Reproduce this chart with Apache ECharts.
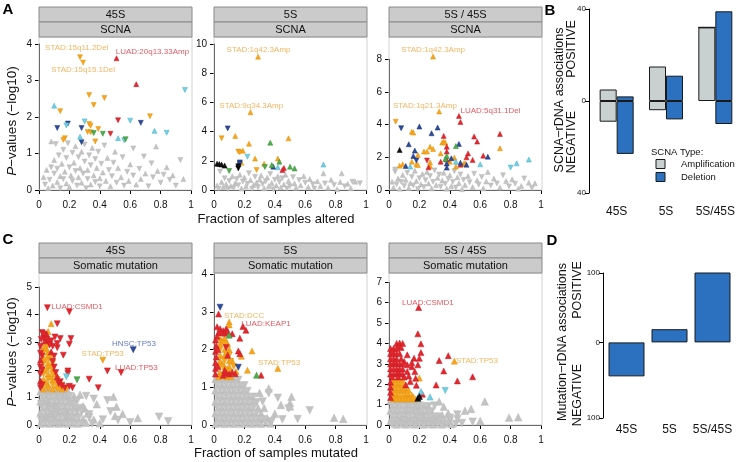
<!DOCTYPE html>
<html><head><meta charset="utf-8">
<script src="https://cdn.jsdelivr.net/npm/echarts@6/dist/echarts.min.js"></script>
<style>html,body{margin:0;padding:0;background:#fff}#c{width:740px;height:462px}</style>
</head><body><div id="c"></div>
<script>
// ---------------- DATA ----------------
const topStrips = ['45S', '5S', '5S / 45S'];
const scnaStrip = 'SCNA';
const mutStrip = 'Somatic mutation';
const xTitleA = 'Fraction of samples altered';
const xTitleC = 'Fraction of samples mutated';
const barCats = ['45S', '5S', '5S/45S'];
const scnaAmpPos = [5, 15, 32];
const scnaAmpNeg = [-9, -4, 0];
const scnaDelPos = [2, 11, 39];
const scnaDelNeg = [-23, -8, -10];
const mutAssoc = [-49, 19, 101];
const yMaxA = [4, 10, 8];
const yMaxC = [5, 4, 7];

// gray points [x, y, dir] dir 0 = up triangle, 1 = down triangle
const A1_gray = [[0.03,0.35,0],[0.04,0.15,1],[0.05,0.55,0],[0.06,0.05,0],[0.07,0.28,1],[0.08,0.62,1],[0.08,1.33,0],[0.09,0.12,0],[0.10,0.45,1],[0.10,0.82,0],[0.11,1.26,1],[0.12,0.22,0],[0.12,0.58,1],[0.13,0.95,1],[0.14,0.38,0],[0.14,0.05,1],[0.15,0.72,0],[0.16,1.10,1],[0.16,0.30,1],[0.17,0.50,0],[0.18,0.18,0],[0.18,0.88,1],[0.19,1.28,1],[0.20,0.62,1],[0.20,0.08,0],[0.21,0.40,0],[0.22,1.02,1],[0.22,0.25,1],[0.23,0.75,0],[0.24,0.52,1],[0.24,1.20,0],[0.25,0.12,1],[0.26,0.35,0],[0.26,0.90,1],[0.27,0.60,0],[0.28,1.05,0],[0.28,0.20,0],[0.29,0.45,1],[0.30,0.78,1],[0.30,1.25,1],[0.31,0.05,1],[0.32,0.55,0],[0.32,0.30,1],[0.33,0.95,1],[0.34,0.15,0],[0.34,0.68,1],[0.35,1.15,0],[0.36,0.40,0],[0.37,0.85,1],[0.37,0.22,1],[0.38,0.60,0],[0.39,1.05,1],[0.40,0.32,0],[0.40,0.10,1],[0.41,0.72,1],[0.42,0.48,0],[0.43,1.22,1],[0.44,0.25,0],[0.45,0.88,0],[0.46,0.55,1],[0.47,0.10,0],[0.48,0.38,1],[0.49,0.75,1],[0.50,1.05,0],[0.51,0.20,1],[0.52,0.60,0],[0.54,0.35,0],[0.55,0.90,1],[0.56,0.12,1],[0.58,0.50,1],[0.59,0.25,0],[0.60,0.70,0],[0.62,1.14,1],[0.62,0.40,1],[0.64,0.15,0],[0.66,0.58,1],[0.67,0.30,0],[0.69,0.92,1],[0.70,0.45,0],[0.72,0.10,1],[0.74,0.73,1],[0.75,0.35,1],[0.77,1.19,0],[0.78,0.52,0],[0.80,0.20,1],[0.82,0.42,1],[0.84,0.62,0],[0.86,0.28,1],[0.88,0.40,0],[0.90,0.12,1],[0.93,0.82,1],[0.95,0.30,0]];
const A2_gray = [[0.02,0.30,0],[0.03,0.10,1],[0.04,1.26,1],[0.05,0.55,0],[0.06,0.20,0],[0.07,0.80,1],[0.08,0.40,0],[0.09,0.05,1],[0.10,0.62,1],[0.11,0.28,0],[0.12,0.95,0],[0.13,0.15,1],[0.14,0.48,0],[0.15,0.75,1],[0.16,0.32,1],[0.17,1.05,0],[0.18,0.10,0],[0.19,0.58,1],[0.20,0.85,0],[0.21,0.25,0],[0.22,0.42,1],[0.23,1.15,1],[0.24,0.68,0],[0.25,0.08,1],[0.26,0.35,0],[0.27,0.90,1],[0.28,0.52,0],[0.29,0.18,1],[0.30,0.72,0],[0.31,1.00,0],[0.32,0.40,1],[0.33,0.12,0],[0.34,0.60,1],[0.35,0.85,0],[0.36,0.28,0],[0.37,1.10,1],[0.38,0.48,0],[0.39,0.05,1],[0.40,0.70,1],[0.41,0.30,0],[0.42,0.95,0],[0.43,0.55,1],[0.44,0.18,0],[0.45,0.80,1],[0.46,0.38,0],[0.47,1.05,0],[0.48,0.10,1],[0.49,0.62,0],[0.50,0.25,1],[0.52,0.88,1],[0.53,0.45,0],[0.54,0.15,0],[0.56,0.68,1],[0.57,0.32,0],[0.59,0.95,0],[0.60,0.50,1],[0.62,0.20,0],[0.63,0.75,0],[0.65,0.40,1],[0.66,0.10,1],[0.68,0.60,0],[0.70,0.28,0],[0.72,1.14,0],[0.73,0.45,1],[0.75,0.15,0],[0.77,0.70,0],[0.79,0.35,1],[0.81,0.05,0],[0.83,0.55,0],[0.84,1.14,0],[0.86,0.25,1],[0.88,0.42,0],[0.91,0.57,1],[0.93,0.57,0],[0.96,0.46,1],[0.90,0.12,0]];
const A3_gray = [[0.02,0.51,0],[0.03,0.15,0],[0.04,1.12,1],[0.04,1.25,1],[0.05,0.35,1],[0.06,0.70,0],[0.07,0.08,0],[0.08,0.50,1],[0.09,0.92,0],[0.10,0.25,1],[0.11,0.62,0],[0.12,1.05,1],[0.13,0.12,0],[0.14,0.42,0],[0.15,0.80,1],[0.16,0.28,1],[0.17,1.18,0],[0.18,0.55,0],[0.19,0.05,1],[0.20,0.72,1],[0.21,0.35,0],[0.22,0.98,0],[0.23,0.18,1],[0.24,0.60,1],[0.25,1.10,0],[0.26,0.40,0],[0.27,0.85,1],[0.28,0.10,0],[0.29,0.50,1],[0.30,1.20,1],[0.31,0.30,0],[0.32,0.75,0],[0.33,0.95,1],[0.34,0.20,1],[0.35,0.58,0],[0.36,1.05,0],[0.37,0.38,1],[0.38,0.08,0],[0.39,0.68,1],[0.40,0.90,0],[0.41,0.25,0],[0.42,0.50,1],[0.43,1.15,1],[0.44,0.15,1],[0.45,0.78,0],[0.46,0.42,0],[0.47,0.95,1],[0.48,0.05,0],[0.49,0.62,1],[0.50,0.30,0],[0.52,0.85,0],[0.53,0.48,1],[0.55,0.18,0],[0.56,1.00,1],[0.58,0.60,0],[0.59,0.32,1],[0.61,0.80,1],[0.62,0.10,0],[0.64,0.52,0],[0.65,1.10,0],[0.67,0.28,1],[0.69,0.70,0],[0.71,0.40,1],[0.73,0.15,0],[0.75,0.90,1],[0.77,0.55,0],[0.79,0.22,1],[0.81,0.65,0],[0.83,0.38,1],[0.85,0.08,0],[0.87,0.25,0],[0.89,0.71,1],[0.92,0.45,0],[0.94,0.12,1],[0.96,0.41,0]];
const C1_gray = [[0.01,1.22,0],[0.04,1.22,1],[0.07,1.22,0],[0.10,1.22,1],[0.13,1.22,0],[0.16,1.22,1],[0.19,1.22,0],[0.02,1.05,1],[0.05,1.05,0],[0.08,1.05,1],[0.11,1.05,0],[0.14,1.05,1],[0.17,1.05,0],[0.20,1.05,1],[0.23,1.05,0],[0.01,0.85,0],[0.04,0.85,1],[0.07,0.85,0],[0.10,0.85,1],[0.13,0.85,0],[0.16,0.85,1],[0.19,0.85,0],[0.22,0.85,1],[0.25,0.87,1],[0.02,0.65,1],[0.05,0.65,0],[0.08,0.65,1],[0.11,0.65,0],[0.14,0.65,1],[0.17,0.65,0],[0.20,0.65,1],[0.23,0.65,0],[0.26,0.62,1],[0.29,0.68,0],[0.01,0.45,0],[0.04,0.45,1],[0.07,0.45,0],[0.10,0.45,1],[0.13,0.45,0],[0.16,0.45,1],[0.19,0.45,0],[0.22,0.45,1],[0.25,0.45,0],[0.28,0.48,1],[0.32,0.42,0],[0.02,0.25,1],[0.05,0.25,0],[0.08,0.25,1],[0.11,0.25,0],[0.14,0.25,1],[0.17,0.25,0],[0.20,0.25,1],[0.23,0.25,0],[0.26,0.25,1],[0.29,0.22,0],[0.33,0.28,1],[0.36,0.20,0],[0.01,0.05,0],[0.04,0.05,1],[0.07,0.05,0],[0.10,0.05,1],[0.13,0.05,0],[0.16,0.05,1],[0.19,0.05,0],[0.22,0.05,1],[0.25,0.05,0],[0.28,0.05,1],[0.31,0.08,0],[0.35,0.05,1],[0.40,0.06,0],[0.015,0.15,1],[0.045,0.35,0],[0.075,0.55,1],[0.105,0.75,0],[0.135,0.95,1],[0.165,1.15,0],[0.045,0.95,0],[0.105,0.35,1],[0.165,0.55,0],[0.015,0.75,1],[0.075,1.15,1],[0.195,0.35,0],[0.225,0.75,1],[0.135,0.15,0],[0.075,0.15,1],[0.45,0.90,1],[0.49,1.02,0],[0.51,0.66,0],[0.50,0.33,0],[0.52,0.18,1],[0.79,0.30,1],[0.85,0.14,1],[0.33,0.39,1],[0.30,0.60,0],[0.38,0.75,0],[0.42,0.20,1],[0.36,0.95,1],[0.27,1.10,0],[0.60,0.10,1],[0.47,0.50,1],[0.55,0.40,0],[0.65,0.25,0],[0.31,1.05,1]];
const C2_gray = [[0.01,1.22,0],[0.04,1.22,1],[0.07,1.22,0],[0.10,1.22,1],[0.13,1.22,0],[0.16,1.20,1],[0.02,1.07,1],[0.05,1.07,0],[0.08,1.07,1],[0.11,1.07,0],[0.14,1.07,1],[0.17,1.07,0],[0.20,1.05,1],[0.01,0.92,0],[0.04,0.92,1],[0.07,0.92,0],[0.10,0.92,1],[0.13,0.92,0],[0.16,0.92,1],[0.19,0.92,0],[0.22,0.90,1],[0.02,0.77,1],[0.05,0.77,0],[0.08,0.77,1],[0.11,0.77,0],[0.14,0.77,1],[0.17,0.77,0],[0.20,0.77,1],[0.23,0.77,0],[0.26,0.75,1],[0.01,0.62,0],[0.04,0.62,1],[0.07,0.62,0],[0.10,0.62,1],[0.13,0.62,0],[0.16,0.62,1],[0.19,0.62,0],[0.22,0.62,1],[0.25,0.62,0],[0.28,0.60,1],[0.02,0.47,1],[0.05,0.47,0],[0.08,0.47,1],[0.11,0.47,0],[0.14,0.47,1],[0.17,0.47,0],[0.20,0.47,1],[0.23,0.47,0],[0.26,0.47,1],[0.29,0.45,0],[0.01,0.32,0],[0.04,0.32,1],[0.07,0.32,0],[0.10,0.32,1],[0.13,0.32,0],[0.16,0.32,1],[0.19,0.32,0],[0.22,0.32,1],[0.25,0.32,0],[0.28,0.32,1],[0.31,0.30,0],[0.02,0.17,1],[0.05,0.17,0],[0.08,0.17,1],[0.11,0.17,0],[0.14,0.17,1],[0.17,0.17,0],[0.20,0.17,1],[0.23,0.17,0],[0.26,0.17,1],[0.29,0.17,0],[0.32,0.15,1],[0.35,0.18,0],[0.01,0.03,0],[0.04,0.03,1],[0.07,0.03,0],[0.10,0.03,1],[0.13,0.03,0],[0.16,0.03,1],[0.19,0.03,0],[0.22,0.03,1],[0.25,0.03,0],[0.28,0.03,1],[0.31,0.03,0],[0.34,0.05,1],[0.37,0.04,0],[0.36,0.97,0],[0.36,0.84,1],[0.51,0.75,0],[0.50,0.58,0],[0.50,0.49,0],[0.49,0.44,1],[0.55,0.16,1],[0.63,0.39,1],[0.79,0.19,0],[0.85,0.16,0],[0.44,0.53,0],[0.40,0.30,0],[0.45,0.15,1],[0.33,0.45,0],[0.42,0.72,1],[0.30,0.85,0],[0.38,0.10,1],[0.32,0.62,1]];
const C3_gray = [[0.01,1.20,0],[0.04,1.20,1],[0.07,1.20,0],[0.10,1.20,1],[0.13,1.20,0],[0.16,1.20,1],[0.19,1.15,0],[0.02,0.95,1],[0.05,0.95,0],[0.08,0.95,1],[0.11,0.95,0],[0.14,0.95,1],[0.17,0.95,0],[0.20,0.95,1],[0.23,0.95,0],[0.26,0.92,1],[0.01,0.70,0],[0.04,0.70,1],[0.07,0.70,0],[0.10,0.70,1],[0.13,0.70,0],[0.16,0.70,1],[0.19,0.70,0],[0.22,0.70,1],[0.25,0.70,0],[0.28,0.68,1],[0.02,0.45,1],[0.05,0.45,0],[0.08,0.45,1],[0.11,0.45,0],[0.14,0.45,1],[0.17,0.45,0],[0.20,0.45,1],[0.23,0.45,0],[0.26,0.45,1],[0.29,0.45,0],[0.32,0.42,1],[0.35,0.48,0],[0.01,0.20,0],[0.04,0.20,1],[0.07,0.20,0],[0.10,0.20,1],[0.13,0.20,0],[0.16,0.20,1],[0.19,0.20,0],[0.22,0.20,1],[0.25,0.20,0],[0.28,0.20,1],[0.31,0.20,0],[0.34,0.22,1],[0.37,0.18,0],[0.40,0.22,1],[0.02,0.03,1],[0.05,0.03,0],[0.08,0.03,1],[0.11,0.03,0],[0.14,0.03,1],[0.17,0.03,0],[0.20,0.03,1],[0.23,0.03,0],[0.26,0.03,1],[0.29,0.03,0],[0.32,0.03,1],[0.35,0.03,0],[0.38,0.05,1],[0.41,0.04,0],[0.44,0.06,1],[0.63,1.15,0],[0.33,1.15,0],[0.39,0.57,0],[0.40,0.36,1],[0.45,0.52,1],[0.50,0.70,0],[0.54,0.79,0],[0.55,0.16,1],[0.79,0.36,0],[0.85,0.38,0],[0.45,0.30,1],[0.60,0.20,0],[0.48,0.10,1],[0.36,0.90,0],[0.30,0.95,1],[0.06,1.08,1],[0.12,0.82,0],[0.18,0.58,1],[0.09,0.33,0],[0.21,0.33,1]];

// coloured points [x, y, colour, dir]  o=STAD orange, r=LUAD red, b=HNSC dark blue, c=cyan, g=green, k=black
const A1_pts = [[0.27,3.64,'o',1],[0.29,3.49,'o',1],[0.51,3.61,'r',0],[0.64,2.90,'r',0],[0.96,2.74,'c',1],[0.33,2.60,'o',1],[0.43,2.52,'o',1],[0.36,2.33,'o',1],[0.10,2.31,'c',0],[0.14,2.16,'o',1],[0.73,2.02,'o',1],[0.52,1.91,'r',1],[0.60,1.90,'c',1],[0.67,1.84,'b',1],[0.19,1.82,'b',1],[0.18,1.77,'c',1],[0.30,1.88,'c',1],[0.33,1.81,'o',1],[0.34,1.76,'o',1],[0.12,1.70,'b',1],[0.28,1.70,'b',1],[0.39,1.67,'o',1],[0.76,1.62,'c',0],[0.32,1.59,'o',1],[0.34,1.58,'o',1],[0.36,1.56,'g',1],[0.42,1.54,'g',1],[0.47,1.54,'r',1],[0.84,1.57,'c',1],[0.17,1.42,'o',1],[0.16,1.37,'o',1],[0.27,1.46,'c',0],[0.52,1.42,'c',0],[0.56,1.36,'c',1],[0.57,1.39,'g',1],[0.37,1.33,'o',1],[0.28,1.31,'b',1]];
const A2_pts = [[0.29,9.13,'o',0],[0.24,5.32,'o',0],[0.09,4.22,'b',1],[0.05,3.54,'o',1],[0.14,3.70,'o',0],[0.49,3.54,'o',0],[0.37,3.24,'g',0],[0.23,3.17,'o',0],[0.16,2.63,'o',1],[0.17,2.58,'o',1],[0.19,2.69,'o',0],[0.22,2.28,'c',1],[0.27,2.15,'o',0],[0.42,2.15,'o',0],[0.43,1.94,'g',0],[0.02,1.80,'k',0],[0.035,1.78,'k',0],[0.05,1.74,'k',0],[0.07,1.67,'k',0],[0.17,1.89,'b',1],[0.16,1.78,'b',0],[0.18,1.87,'o',0],[0.33,1.80,'o',0],[0.38,1.71,'g',0],[0.39,1.60,'b',0],[0.335,1.58,'g',1],[0.42,1.55,'c',0],[0.50,1.60,'g',0],[0.46,1.51,'r',0],[0.45,1.37,'r',0],[0.53,1.48,'g',0],[0.72,1.74,'c',0],[0.16,1.48,'k',1],[0.16,1.62,'k',1],[0.10,1.30,'g',1],[0.28,1.37,'o',1],[0.17,1.80,'b',1]];
const A3_pts = [[0.29,8.16,'o',0],[0.33,4.80,'o',0],[0.46,4.53,'r',0],[0.47,4.16,'r',0],[0.044,4.18,'o',1],[0.08,3.78,'b',1],[0.20,3.88,'b',0],[0.32,3.82,'b',0],[0.28,3.47,'b',0],[0.15,3.57,'o',0],[0.16,3.51,'o',0],[0.36,3.31,'r',0],[0.73,3.43,'r',0],[0.56,3.27,'r',0],[0.58,2.96,'r',0],[0.13,2.80,'b',0],[0.46,2.82,'b',0],[0.35,2.90,'o',0],[0.36,2.96,'o',0],[0.37,2.90,'o',0],[0.44,2.69,'g',0],[0.38,2.65,'r',0],[0.27,2.65,'o',0],[0.29,2.51,'o',0],[0.73,2.55,'o',0],[0.07,2.45,'k',0],[0.17,2.41,'b',0],[0.23,2.35,'o',0],[0.25,2.35,'o',0],[0.38,2.35,'r',0],[0.52,2.24,'r',0],[0.62,2.10,'r',0],[0.65,2.04,'b',0],[0.34,2.24,'o',0],[0.19,2.14,'o',0],[0.16,2.08,'b',0],[0.18,1.80,'b',1],[0.43,1.98,'o',0],[0.51,2.00,'r',0],[0.55,1.84,'r',0],[0.41,1.94,'b',0],[0.38,2.08,'g',0],[0.38,1.86,'r',0],[0.15,1.73,'o',0],[0.27,1.69,'o',0],[0.34,1.73,'r',0],[0.40,1.73,'o',0],[0.44,1.73,'c',0],[0.47,1.67,'b',0],[0.09,1.57,'o',0],[0.07,1.49,'o',0],[0.11,1.47,'b',0],[0.14,1.43,'c',0],[0.18,1.57,'o',0],[0.19,1.53,'o',0],[0.27,1.47,'o',0],[0.25,1.80,'r',1],[0.26,1.39,'r',0],[0.38,1.62,'b',0],[0.38,1.37,'b',0],[0.37,1.90,'g',0],[0.44,1.43,'o',0],[0.49,1.59,'o',0],[0.50,1.63,'o',0],[0.51,1.55,'b',0],[0.47,1.55,'r',0],[0.60,1.57,'c',0],[0.80,1.37,'c',1],[0.84,1.63,'c',0],[0.92,1.86,'c',0]];
const C1_pts = [[0.035,2.85,'o',0],[0.055,2.85,'o',1],[0.03,2.65,'o',1],[0.06,2.65,'o',0],[0.03,2.45,'o',0],[0.06,2.45,'o',1],[0.08,2.45,'o',0],[0.03,2.25,'o',1],[0.06,2.25,'o',0],[0.09,2.25,'o',1],[0.03,2.05,'o',0],[0.06,2.05,'o',1],[0.09,2.05,'o',0],[0.03,1.85,'o',1],[0.06,1.85,'o',0],[0.09,1.85,'o',1],[0.11,1.85,'o',0],[0.03,1.65,'o',0],[0.06,1.65,'o',1],[0.09,1.65,'o',0],[0.12,1.65,'o',1],[0.03,1.45,'o',1],[0.06,1.45,'o',0],[0.09,1.45,'o',1],[0.12,1.45,'o',0],[0.15,1.45,'o',1],[0.03,1.30,'o',0],[0.06,1.30,'o',1],[0.09,1.30,'o',0],[0.12,1.30,'o',1],[0.15,1.30,'o',0],[0.18,1.30,'o',1],[0.045,2.75,'o',0],[0.045,2.35,'o',1],[0.075,2.15,'o',0],[0.045,1.95,'o',1],[0.075,1.75,'o',0],[0.105,1.55,'o',1],[0.045,1.55,'o',0],[0.135,1.38,'o',0],[0.08,3.67,'o',0],[0.06,3.39,'o',0],[0.42,2.35,'o',1],
[0.055,4.25,'r',1],[0.20,4.10,'r',1],[0.12,3.67,'r',1],[0.45,1.96,'r',1],[0.54,1.90,'r',1],[0.39,1.35,'r',1],[0.33,1.66,'r',1],[0.19,1.96,'r',1],[0.19,1.87,'r',1],[0.16,2.53,'r',1],[0.20,2.93,'r',1],[0.21,3.13,'r',1],[0.105,3.19,'r',1],[0.14,3.13,'r',1],[0.17,1.35,'r',1],[0.22,1.35,'r',1],[0.20,1.40,'r',1],[0.14,1.57,'r',1],[0.01,1.35,'r',1],[0.01,1.60,'r',0],[0.01,1.85,'r',1],[0.01,2.10,'r',1],[0.01,2.35,'r',0],[0.01,2.60,'r',1],[0.01,2.85,'r',1],[0.015,3.10,'r',1],[0.02,3.35,'r',1],[0.03,3.15,'r',1],[0.04,3.05,'r',0],[0.05,3.10,'r',1],[0.065,3.00,'r',1],[0.08,3.05,'r',1],[0.09,2.85,'r',1],[0.08,2.65,'r',0],[0.10,2.50,'r',1],[0.09,2.30,'r',1],[0.10,2.10,'r',1],[0.11,1.90,'r',1],[0.12,1.75,'r',0],[0.13,1.50,'r',1],[0.15,1.42,'r',1],[0.03,3.30,'r',1],[0.12,2.95,'r',1],[0.12,2.80,'r',1],[0.02,1.45,'r',1],[0.02,2.00,'r',1],[0.02,2.50,'r',1],[0.07,2.90,'r',1],[0.05,3.30,'r',0],
[0.62,2.73,'b',1],[0.25,1.64,'g',1],[0.18,1.75,'c',1]];
const C2_pts = [[0.04,2.30,'o',0],[0.07,2.30,'o',0],[0.04,2.15,'o',0],[0.07,2.15,'o',1],[0.09,2.15,'o',0],[0.04,2.00,'o',1],[0.07,2.00,'o',0],[0.10,2.00,'o',0],[0.04,1.85,'o',0],[0.07,1.85,'o',0],[0.10,1.85,'o',1],[0.04,1.70,'o',0],[0.07,1.70,'o',1],[0.10,1.70,'o',0],[0.12,1.70,'o',0],[0.04,1.55,'o',1],[0.07,1.55,'o',0],[0.10,1.55,'o',0],[0.13,1.55,'o',1],[0.04,1.40,'o',0],[0.07,1.40,'o',0],[0.10,1.40,'o',1],[0.03,1.28,'o',0],[0.05,1.28,'o',1],[0.08,1.28,'o',0],[0.11,1.28,'o',0],[0.055,2.22,'o',0],[0.085,1.92,'o',0],[0.055,1.62,'o',0],[0.085,1.48,'o',0],
[0.10,2.73,'o',0],[0.10,2.65,'o',0],[0.25,1.96,'o',0],[0.18,1.82,'o',0],[0.11,1.68,'o',1],[0.22,1.45,'o',0],[0.42,1.50,'o',0],[0.145,1.42,'o',0],
[0.03,2.94,'r',0],[0.19,2.61,'r',0],[0.21,2.51,'r',0],[0.17,2.30,'r',0],[0.16,1.96,'r',0],[0.17,1.89,'r',0],[0.31,1.32,'r',0],[0.09,1.85,'r',0],[0.08,2.05,'r',1],[0.02,2.60,'r',0],[0.04,2.55,'r',0],[0.06,2.50,'r',0],[0.08,2.55,'r',0],[0.05,2.45,'r',0],[0.03,2.45,'r',0],[0.07,2.43,'r',0],[0.09,2.48,'r',0],[0.12,2.42,'r',0],[0.01,1.35,'r',0],[0.01,1.50,'r',0],[0.01,1.65,'r',0],[0.015,1.80,'r',0],[0.01,1.95,'r',0],[0.015,2.10,'r',0],[0.01,2.25,'r',0],[0.02,2.35,'r',0],[0.025,1.55,'r',0],[0.025,2.00,'r',0],[0.06,1.32,'r',0],[0.08,1.38,'r',0],[0.10,1.35,'r',0],[0.12,1.40,'r',0],[0.14,1.36,'r',0],[0.07,1.45,'r',0],
[0.04,3.12,'b',1],[0.16,1.53,'b',1],[0.10,2.38,'g',0],[0.28,1.32,'g',0]];
const C3_pts = [[0.03,2.20,'o',0],[0.05,2.20,'o',0],[0.07,2.20,'o',0],[0.09,2.20,'o',0],[0.03,1.95,'o',0],[0.05,1.95,'o',0],[0.07,1.95,'o',0],[0.09,1.95,'o',0],[0.11,1.95,'o',0],[0.03,1.70,'o',0],[0.05,1.70,'o',0],[0.07,1.70,'o',0],[0.09,1.70,'o',0],[0.11,1.70,'o',0],[0.13,1.70,'o',0],[0.03,1.45,'o',0],[0.05,1.45,'o',0],[0.07,1.45,'o',0],[0.09,1.45,'o',0],[0.11,1.45,'o',0],[0.13,1.45,'o',0],[0.15,1.45,'o',0],[0.03,1.28,'o',0],[0.05,1.28,'o',0],[0.07,1.28,'o',0],[0.09,1.28,'o',0],[0.11,1.28,'o',0],[0.13,1.28,'o',0],[0.15,1.28,'o',0],[0.17,1.28,'o',0],[0.04,2.08,'o',0],[0.08,2.08,'o',0],[0.06,1.83,'o',0],[0.10,1.83,'o',0],[0.04,1.58,'o',0],[0.12,1.58,'o',0],[0.16,1.38,'o',0],[0.43,3.13,'o',0],[0.20,2.30,'o',0],
[0.195,5.76,'r',0],[0.19,4.47,'r',0],[0.21,3.98,'r',0],[0.39,3.40,'r',0],[0.21,3.55,'r',0],[0.33,3.16,'r',0],[0.36,2.65,'r',0],[0.45,2.16,'r',0],[0.55,2.36,'r',0],[0.31,1.96,'r',0],[0.22,1.51,'r',0],[0.12,3.44,'r',0],[0.165,3.27,'r',0],[0.20,3.27,'r',0],[0.10,3.11,'r',0],[0.15,2.86,'r',0],[0.19,2.95,'r',0],[0.12,2.62,'r',0],[0.17,2.62,'r',0],[0.175,2.29,'r',0],[0.14,2.13,'r',0],[0.11,1.96,'r',0],[0.18,1.95,'r',0],[0.13,2.40,'r',0],[0.15,3.05,'r',0],[0.12,2.95,'r',0],
[0.05,4.00,'r',0],[0.07,4.02,'r',0],[0.09,4.00,'r',0],[0.06,3.85,'r',0],[0.08,3.80,'r',0],[0.01,3.75,'r',0],[0.03,3.75,'r',0],[0.05,3.75,'r',0],[0.01,3.50,'r',0],[0.03,3.50,'r',0],[0.05,3.50,'r',0],[0.07,3.50,'r',0],[0.01,3.25,'r',0],[0.03,3.25,'r',0],[0.05,3.25,'r',0],[0.08,3.25,'r',0],[0.01,3.00,'r',0],[0.03,3.00,'r',0],[0.05,3.00,'r',0],[0.07,3.00,'r',0],[0.09,3.00,'r',0],[0.01,2.75,'r',0],[0.03,2.75,'r',0],[0.05,2.75,'r',0],[0.07,2.75,'r',0],[0.09,2.75,'r',0],[0.01,2.50,'r',0],[0.03,2.50,'r',0],[0.05,2.50,'r',0],[0.07,2.50,'r',0],[0.09,2.50,'r',0],[0.02,2.35,'r',0],[0.06,2.35,'r',0],[0.10,2.35,'r',0],[0.01,2.10,'r',0],[0.01,1.85,'r',0],[0.01,1.60,'r',0],[0.01,1.35,'r',0],[0.02,3.62,'r',0],[0.04,3.12,'r',0],[0.06,2.62,'r',0],
[0.37,1.69,'c',1],[0.27,1.37,'c',0],[0.21,1.64,'c',0],[0.19,1.31,'k',0],[0.20,1.40,'k',0]];

// annotations [x, y, text, colour]
const A1_labels = [[0.04,3.90,'STAD:15q11.2Del','o'],[0.08,3.28,'STAD:15q15.1Del','o'],[0.505,3.80,'LUAD:20q13.33Amp','r']];
const A2_labels = [[0.083,9.63,'STAD:1q42.3Amp','o'],[0.035,5.75,'STAD:9q34.3Amp','o']];
const A3_labels = [[0.08,8.57,'STAD:1q42.3Amp','o'],[0.026,5.18,'STAD:1q21.3Amp','o'],[0.47,4.84,'LUAD:5q31.1Del','r']];
const C1_labels = [[0.08,4.30,'LUAD:CSMD1','r'],[0.48,2.95,'HNSC:TP53','b'],[0.28,2.57,'STAD:TP53','o'],[0.50,2.08,'LUAD:TP53','r']];
const C2_labels = [[0.066,2.90,'STAD:DCC','o'],[0.18,2.69,'LUAD:KEAP1','r'],[0.29,1.64,'STAD:TP53','o']];
const C3_labels = [[0.086,6.00,'LUAD:CSMD1','r'],[0.44,3.13,'STAD:TP53','o']];

// ---------------- STYLE / LAYOUT ----------------
const FF = "'Liberation Sans', Arial, Helvetica, sans-serif";
const COL = {o:'#f7a51f', r:'#e4262e', b:'#2c4b9b', c:'#72d0e4', g:'#4caf4a', k:'#111111'};
const EDGE = {o:'#e0940f', r:'#c21f25', b:'#1b3275', c:'#4aaec6', g:'#338733', k:'#000000'};
const LABCOL = {o:'#f0a33a', r:'#e0303a', b:'#3f5db0'};
const GRAY = '#c3c3c3', GRAY_EDGE = '#b8b8b8';
const panelX = [39, 214, 389];
const PW = 152;
const rowA = {stripTop:7, axisY:190, pxPerUnit:[36.5, 14.6, 16.35], graySize: 5, colSize: 5};
const rowC = {stripTop:243, axisY:425, pxPerUnit:[27.6, 37.75, 20.4], graySize: 7.5, colSize: 6};

const grids = [], xAxes = [], yAxes = [], series = [], graphics = [];

function addScatterPanel(gi, left, row, ppu, ymax, yint, gray, pts, labels) {
  const axisY = row.axisY;
  const h = ymax * ppu;
  grids.push({left: left, top: axisY - h, width: PW, height: h});
  xAxes.push({gridIndex: gi, type: 'value', min: 0, max: 1, interval: 0.2,
    axisLine: {show: true, onZero: false, lineStyle: {color: '#000', width: 1}},
    axisTick: {show: true, length: 4, lineStyle: {color: '#000'}},
    axisLabel: {fontSize: 10, color: '#111', margin: 10, fontFamily: FF},
    splitLine: {show: false}});
  yAxes.push({gridIndex: gi, type: 'value', min: 0, max: ymax, interval: yint,
    axisLine: {show: true, lineStyle: {color: '#000', width: 1}},
    axisTick: {show: true, length: 4, lineStyle: {color: '#000'}},
    axisLabel: {fontSize: 10, color: '#111', margin: 7, fontFamily: FF},
    splitLine: {show: false}});
  const mk = (data, fill, edge, d, z, size) => ({type: 'scatter', xAxisIndex: gi, yAxisIndex: gi, data: data,
    symbol: 'triangle', symbolSize: size, symbolRotate: d ? 180 : 0, clip: false, silent: true, z: z,
    itemStyle: {color: fill, borderColor: edge, borderWidth: 0.5, opacity: 1}});
  [0, 1].forEach(d => series.push(mk(gray.filter(p => p[2] === d).map(p => [p[0], p[1]]), GRAY, GRAY_EDGE, d, 2, row.graySize)));
  ['o', 'r', 'b', 'c', 'g', 'k'].forEach((k, ki) => [0, 1].forEach(d => {
    const data = pts.filter(p => p[2] === k && p[3] === d).map(p => [p[0], p[1]]);
    if (data.length) series.push(mk(data, COL[k], EDGE[k], d, 3 + ki, row.colSize));
  }));
  series.push({type: 'scatter', xAxisIndex: gi, yAxisIndex: gi, symbolSize: 0, clip: false, silent: true, z: 20,
    data: labels.map(l => ({value: [l[0], l[1]], name: l[2], label: {color: LABCOL[l[3]]}})),
    label: {show: true, position: 'right', distance: 0, formatter: '{b}', fontSize: 8, fontFamily: FF}});
}

const gA = [A1_gray, A2_gray, A3_gray], pA = [A1_pts, A2_pts, A3_pts], lA = [A1_labels, A2_labels, A3_labels];
const gC = [C1_gray, C2_gray, C3_gray], pC = [C1_pts, C2_pts, C3_pts], lC = [C1_labels, C2_labels, C3_labels];
const intA = [1, 2, 2], intC = [1, 1, 1];
for (let i = 0; i < 3; i++) addScatterPanel(i, panelX[i], rowA, rowA.pxPerUnit[i], yMaxA[i], intA[i], gA[i], pA[i], lA[i]);
for (let i = 0; i < 3; i++) addScatterPanel(3 + i, panelX[i], rowC, rowC.pxPerUnit[i], yMaxC[i], intC[i], gC[i], pC[i], lC[i]);

// Panel B
grids.push({left: 592, top: 9, width: 150, height: 184});
xAxes.push({gridIndex: 6, type: 'category', data: barCats, axisLine: {show: false}, axisTick: {show: false},
  axisLabel: {interval: 0, fontSize: 12, color: '#111', margin: 13, fontFamily: FF}});
yAxes.push({gridIndex: 6, type: 'value', min: -40, max: 40, interval: 40, offset: 3,
  axisLine: {show: true, lineStyle: {color: '#000'}}, axisTick: {show: true, length: 4, lineStyle: {color: '#000'}},
  axisLabel: {fontSize: 8, color: '#111', margin: 3, fontFamily: FF, formatter: v => String(Math.abs(v))},
  splitLine: {show: false}});
const AMP = '#c8d0d0', DEL = '#2b71c0';
const barStyle = c => ({color: c, borderColor: '#1a1a1a', borderWidth: 1});
[['Amplification', 'amp', scnaAmpPos, AMP], ['Amplification', 'amp', scnaAmpNeg, AMP],
 ['Deletion', 'del', scnaDelPos, DEL], ['Deletion', 'del', scnaDelNeg, DEL]].forEach(s => {
  series.push({type: 'bar', name: s[0], stack: s[1], xAxisIndex: 6, yAxisIndex: 6, data: s[2],
    barWidth: 17, barGap: '0%', silent: true, itemStyle: barStyle(s[3])});
});

// Panel D
grids.push({left: 605, top: 273, width: 129, height: 145});
xAxes.push({gridIndex: 7, type: 'category', data: barCats, axisLine: {show: false}, axisTick: {show: false},
  axisLabel: {interval: 0, fontSize: 12, color: '#111', margin: 6, fontFamily: FF}});
yAxes.push({gridIndex: 7, type: 'value', min: -109, max: 100, offset: 2,
  axisLine: {show: true, lineStyle: {color: '#000'}},
  axisTick: {show: true, length: 4, lineStyle: {color: '#000'}, customValues: [-109, 0, 100]},
  axisLabel: {fontSize: 8, color: '#111', margin: 3, fontFamily: FF, customValues: [-109, 0, 100],
    formatter: v => (v === 0 ? '0' : '100')},
  splitLine: {show: false}});
series.push({type: 'bar', xAxisIndex: 7, yAxisIndex: 7, data: mutAssoc, barWidth: 36, silent: true, itemStyle: barStyle(DEL)});

// ---------------- GRAPHICS (strips, titles) ----------------
function txt(x, y, text, size, opts) {
  return Object.assign({type: 'text', x: x, y: y, z: 50, silent: true,
    style: Object.assign({text: text, fontSize: size, fontFamily: FF, fill: '#111',
      align: 'center', verticalAlign: 'middle', textAlign: 'center', textVerticalAlign: 'middle'}, (opts && opts.style) || {})},
    (opts && opts.el) || {});
}
function strips(row, bottomText) {
  for (let i = 0; i < 3; i++) {
    const x1 = panelX[i], w = 153, y = row.stripTop;
    graphics.push({type: 'rect', z: 1, silent: true, shape: {x: x1, y: y + 30, width: w, height: row.axisY - y - 30},
      style: {fill: 'rgba(0,0,0,0)', stroke: '#d2d2d2', lineWidth: 1}});
    graphics.push({type: 'rect', z: 40, silent: true, shape: {x: x1, y: y, width: w, height: 15}, style: {fill: '#cbcbcb', stroke: '#8a8a8a', lineWidth: 1}});
    graphics.push({type: 'rect', z: 40, silent: true, shape: {x: x1, y: y + 15, width: w, height: 15}, style: {fill: '#cbcbcb', stroke: '#8a8a8a', lineWidth: 1}});
    graphics.push(txt(x1 + w / 2, y + 8, topStrips[i], 11));
    graphics.push(txt(x1 + w / 2, y + 23, bottomText, 11));
  }
}
strips(rowA, scnaStrip);
strips(rowC, mutStrip);
graphics.push(txt(276, 219, xTitleA, 13));
graphics.push(txt(276, 453, xTitleC, 13));
const pStyle = {style: {text: '{i|P}−values (−log10)', rich: {i: {fontStyle: 'italic', fontSize: 13.5, fontFamily: FF, fill: '#111'}}}, el: {rotation: Math.PI / 2}};
graphics.push(txt(12, 121, '', 13.5, pStyle));
graphics.push(txt(12, 352, '', 13.5, pStyle));
// panel letters
graphics.push(txt(8, 10, 'A', 15, {style: {fontWeight: 'bold', fill: '#000'}}));
graphics.push(txt(550, 11, 'B', 15, {style: {fontWeight: 'bold', fill: '#000'}}));
graphics.push(txt(8, 240, 'C', 15, {style: {fontWeight: 'bold', fill: '#000'}}));
graphics.push(txt(552, 241, 'D', 15, {style: {fontWeight: 'bold', fill: '#000'}}));
// B / D axis titles
const rot = {el: {rotation: Math.PI / 2}};
graphics.push(txt(560, 100, 'SCNA−rDNA associations', 12.5, rot));
graphics.push(txt(572, 142, 'NEGATIVE', 12.5, rot));
graphics.push(txt(572, 49, 'POSITIVE', 12.5, rot));
graphics.push(txt(563, 342, 'Mutation−rDNA associations', 12.5, rot));
graphics.push(txt(578, 395, 'NEGATIVE', 12.5, rot));
graphics.push(txt(578, 290, 'POSITIVE', 12.5, rot));
// legend for B
graphics.push(txt(651, 152, 'SCNA Type:', 9.5, {style: {align: 'left', textAlign: 'left'}}));
graphics.push({type: 'rect', z: 50, silent: true, shape: {x: 656, y: 159.5, width: 9, height: 9}, style: {fill: AMP, stroke: '#1a1a1a', lineWidth: 1}});
graphics.push({type: 'rect', z: 50, silent: true, shape: {x: 656, y: 172.5, width: 9, height: 9}, style: {fill: DEL, stroke: '#1a1a1a', lineWidth: 1}});
graphics.push(txt(681, 164.5, 'Amplification', 9.5, {style: {align: 'left', textAlign: 'left'}}));
graphics.push(txt(681, 177.5, 'Deletion', 9.5, {style: {align: 'left', textAlign: 'left'}}));

const chart = echarts.init(document.getElementById('c'), null, {renderer: 'canvas'});
chart.setOption({
  animation: false,
  backgroundColor: '#ffffff',
  textStyle: {fontFamily: FF},
  grid: grids, xAxis: xAxes, yAxis: yAxes, series: series,
  graphic: {elements: graphics}
});
</script></body></html>
